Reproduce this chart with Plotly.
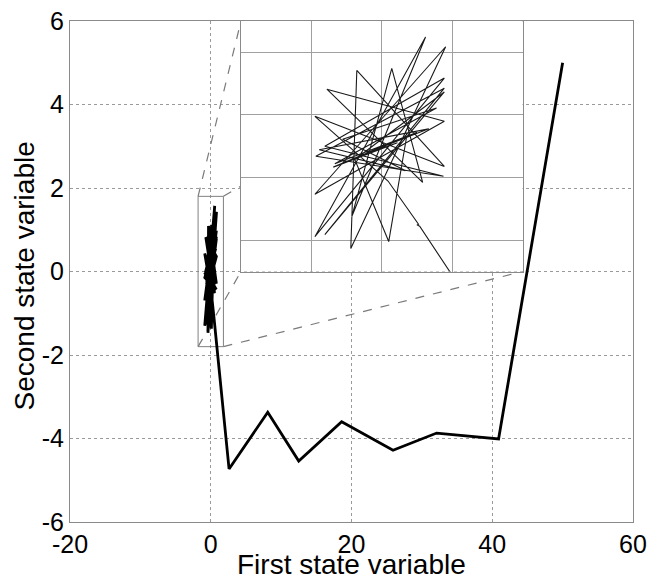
import plotly.graph_objects as go

# ---- data -------------------------------------------------------------
# outer part of the trajectory (first state, second state)
outer_x = [50.0, 40.9, 32.1, 25.9, 18.6, 12.5, 8.1, 2.6]
outer_y = [5.0, -4.01, -3.87, -4.28, -3.6, -4.54, -3.37, -4.73]

# trajectory near the origin (shown magnified in the inset)
inner_x = [0.485, 0.45, 0.47, 0.08, -0.855, 0.80, -0.319, -0.396, 0.817, -0.855,
           0.80, -0.702, 0.523, 0.128, -0.383, 0.56, -0.855, 0.80, -0.728, 0.79,
           -0.843, 0.80, -0.728, 0.80, -0.345, 0.089, 0.319, -0.60, 0.70, -0.50,
           0.30, -0.80, 0.60, -0.20, 0.45, -0.62, 0.20, -0.30, 0.05]
inner_y = [-1.15, -1.13, -1.12, -0.50, 0.43, -0.29, 1.09, -1.47, 1.43, -0.69,
           0.36, 0.82, -0.52, 1.12, -1.01, 1.57, -1.30, 0.98, 0.0, -0.43,
           -0.144, 0.835, -1.27, 0.78, -0.19, -1.37, 0.144, -0.25, 0.55, 0.10,
           -0.35, -0.05, 0.25, -0.10, 0.20, -0.30, 0.05, -0.15, 0.0]

traj_x = outer_x + inner_x
traj_y = outer_y + inner_y

x_range = [-20, 60]
y_range = [-6, 6]
x_ticks = [-20, 0, 20, 40, 60]
x_tick_text = ["-20", "0", "20", "40", "60"]
y_ticks = [-6, -4, -2, 0, 2, 4, 6]
y_tick_text = ["-6", "-4", "-2", "0", "2", "4", "6"]

zoom_x = [-1.8, 1.8]          # magnified region
zoom_y = [-1.8, 1.8]
inset_x = [4.3, 44.3]         # where the inset sits, in main-axis units
inset_y = [0.0, 6.0]
inset_grid_x = [-0.9, 0.0, 0.9]
inset_grid_y = [-1.35, -0.45, 0.45, 1.35]

x_title = "First state variable"
y_title = "Second state variable"

# ---- figure -----------------------------------------------------------
FONT = "Liberation Sans, Arial, sans-serif"
AX_GREY = "#8a8a8a"
GRID_GREY = "#9a9a9a"

fig = go.Figure()

# connector lines from the zoom box corners to the inset corners (dashed)
for cx, ix in ((0, 0), (1, 1)):
    for cy, iy in ((0, 0), (1, 1)):
        fig.add_trace(go.Scatter(
            x=[zoom_x[cx], inset_x[ix]], y=[zoom_y[cy], inset_y[iy]],
            mode="lines", line=dict(color="#7a7a7a", width=1.2, dash="dash"),
            hoverinfo="skip", showlegend=False, xaxis="x", yaxis="y"))

# zoom box
fig.add_trace(go.Scatter(
    x=[zoom_x[0], zoom_x[1], zoom_x[1], zoom_x[0], zoom_x[0]],
    y=[zoom_y[0], zoom_y[0], zoom_y[1], zoom_y[1], zoom_y[0]],
    mode="lines", line=dict(color="#808080", width=1),
    hoverinfo="skip", showlegend=False, xaxis="x", yaxis="y"))

# main trajectory
fig.add_trace(go.Scatter(x=traj_x, y=traj_y, mode="lines",
                         line=dict(color="black", width=2.8),
                         showlegend=False, xaxis="x", yaxis="y"))

# inset trajectory
fig.add_trace(go.Scatter(x=traj_x, y=traj_y, mode="lines",
                         line=dict(color="#1a1a1a", width=1.1),
                         showlegend=False, xaxis="x2", yaxis="y2"))

# domains of the inset computed from its position in main-axis units
def frac(v, r):
    return (v - r[0]) / (r[1] - r[0])

dom_x = [frac(inset_x[0], x_range), frac(inset_x[1], x_range)]
dom_y = [frac(inset_y[0], y_range), frac(inset_y[1], y_range)]

tick_font = dict(family=FONT, size=25, color="black")
title_font = dict(family=FONT, size=28, color="black")

PLOT_H = 582 - 21 - 60
PLOT_W = 650 - 70 - 17

fig.update_layout(
    width=650, height=582,
    margin=dict(l=70, r=17, t=21, b=60),
    paper_bgcolor="white", plot_bgcolor="white",
    showlegend=False,
    xaxis=dict(range=x_range, tickvals=x_ticks, ticktext=x_tick_text, ticks="",
               showline=True, mirror=True, linecolor=AX_GREY, linewidth=1.2,
               showgrid=True, gridcolor=GRID_GREY, griddash="dot", gridwidth=1,
               zeroline=False, tickfont=tick_font,
               automargin=False, domain=[0, 1]),
    yaxis=dict(range=y_range, tickvals=y_ticks, ticktext=y_tick_text, ticks="",
               showline=True, mirror=True, linecolor=AX_GREY, linewidth=1.2,
               showgrid=True, gridcolor=GRID_GREY, griddash="dot", gridwidth=1,
               zeroline=False, tickfont=tick_font,
               automargin=False, domain=[0, 1]),
    xaxis2=dict(domain=dom_x, anchor="y2", range=zoom_x, tickvals=inset_grid_x,
                showticklabels=False, ticks="", showline=True, mirror=True,
                linecolor=AX_GREY, linewidth=1.2, showgrid=True,
                gridcolor="#a0a0a0", gridwidth=1, zeroline=False),
    yaxis2=dict(domain=dom_y, anchor="x2", range=zoom_y, tickvals=inset_grid_y,
                showticklabels=False, ticks="", showline=True, mirror=True,
                linecolor=AX_GREY, linewidth=1.2, showgrid=True,
                gridcolor="#a0a0a0", gridwidth=1, zeroline=False),
    annotations=[
        dict(text=x_title, xref="paper", yref="paper", x=0.5,
             y=-(564 - 522) / PLOT_H, xanchor="center", yanchor="middle",
             showarrow=False, font=title_font),
        dict(text=y_title, xref="paper", yref="paper",
             x=-(70 - 25) / PLOT_W, y=0.49, xanchor="center",
             yanchor="middle", textangle=-90, showarrow=False,
             font=title_font),
    ],
)

fig.write_html("out.html")
